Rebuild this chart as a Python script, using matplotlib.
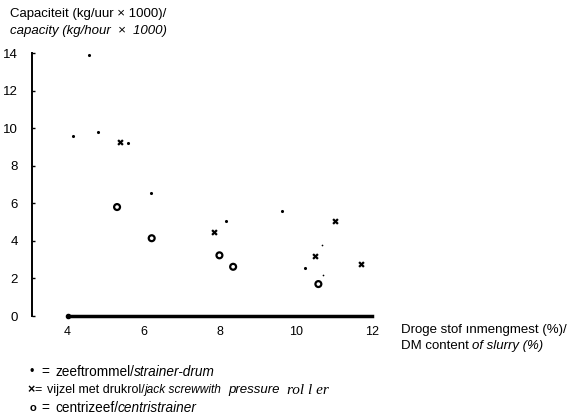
import matplotlib
matplotlib.use('Agg')
import matplotlib.pyplot as plt

plt.rcParams['font.family'] = ['Liberation Sans', 'DejaVu Sans']

# zeeftrommel / strainer-drum (dots)
drum_x = [4.14, 4.57, 4.80, 5.59, 6.19, 8.17, 9.64, 10.23]
drum_y = [9.60, 13.90, 9.81, 9.23, 6.56, 5.07, 5.60, 2.56]
# small dots
drum_small_x = [10.68, 10.72]
drum_small_y = [3.76, 2.17]
# vijzel met drukrol / jack screw with pressure roller (x)
jack_x = [5.37, 7.86, 10.50, 11.02, 11.71]
jack_y = [9.28, 4.47, 3.22, 5.06, 2.79]
# centrizeef / centristrainer (o)
centri_x = [5.30, 6.21, 7.99, 8.35, 10.59]
centri_y = [5.80, 4.14, 3.23, 2.62, 1.70]

xticks = [4, 6, 8, 10, 12]
yticks = [0, 2, 4, 6, 8, 10, 12, 14]

W, H = 570, 419
fig = plt.figure(figsize=(W / 100, H / 100), dpi=100)
ax = fig.add_axes([32 / W, (H - 316) / H, (375 - 32) / W, (316 - 53) / H])
ax.set_xlim(4 - 36 / 38.5, 12 + 3 / 38.5)
ax.set_ylim(0, 14)

ax.scatter(drum_x, drum_y, s=5, c='black', marker='o', linewidths=0)
ax.scatter(drum_small_x, drum_small_y, s=1.5, c='black', marker='o', linewidths=0)
ax.scatter(jack_x, jack_y, s=12, c='black', marker='x', linewidths=1.6)
ax.scatter(centri_x, centri_y, s=18, facecolors='none', edgecolors='black', marker='o', linewidths=1.6)

for s in ['top', 'right']:
    ax.spines[s].set_visible(False)
ax.spines['left'].set_bounds(0, 14)
ax.spines['left'].set_linewidth(1.4)
ax.spines['bottom'].set_bounds(4, 12)
ax.spines['bottom'].set_linewidth(2.5)
ax.plot([4], [0], marker='o', ms=3, color='black', clip_on=False)

ax.set_xticks(xticks)
ax.set_yticks(yticks)
ax.tick_params(axis='x', length=0, pad=7, labelsize=9)
ax.tick_params(axis='y', direction='in', length=2, width=1, pad=10, labelsize=9.5)

fs = 9.5
fig.text(10 / W, 1 - 14 / H, 'Capaciteit (kg/uur \u00d7 1000)/', fontsize=fs, va='center')
fig.text(10 / W, 1 - 31 / H, 'capacity (kg/hour  \u00d7  1000)', fontsize=fs, va='center', style='italic')


def pieces(x, y, parts, size=fs):
    # draw text pieces one after another on one line
    r = fig.canvas.get_renderer()
    for txt, kw in parts:
        kw = dict(kw)
        kw.setdefault('fontsize', size)
        if 'at' in kw:
            x = kw.pop('at')
        t = fig.text(x / W, 1 - y / H, txt, va='center', **kw)
        bb = t.get_window_extent(renderer=r)
        x = bb.x1


pieces(401, 330, [('Droge stof \u0131nmengmest (%)/', {})])
pieces(401, 346, [('DM content ', {}), ('of slurry (%)', {'style': 'italic'})])

lf = 9.8
pieces(30, 372, [('\u2022', {'fontsize': 9}), ('=', {'at': 41}), ('zeeftrommel/', {'at': 55}),
                 ('strainer-drum', {'style': 'italic'})], size=lf)
pieces(27, 390, [('\u00d7', {'fontweight': 'bold'}), ('=', {'at': 34}),
                 ('vijzel met drukrol/', {'at': 47}),
                 ('jack screwwith', {'style': 'italic', 'fontsize': 8.6}),
                 ('pressure', {'style': 'italic', 'fontsize': 9.5, 'at': 228}),
                 ('rol l er', {'family': 'Liberation Serif', 'style': 'italic',
                               'fontsize': 11, 'at': 287})], size=9)
pieces(30, 408, [('o', {'fontweight': 'bold', 'fontsize': 8}), ('=', {'at': 41}),
                 ('centrizeef/', {'at': 55}),
                 ('centristrainer', {'style': 'italic'})], size=lf)

fig.savefig('out.png', dpi=100)
